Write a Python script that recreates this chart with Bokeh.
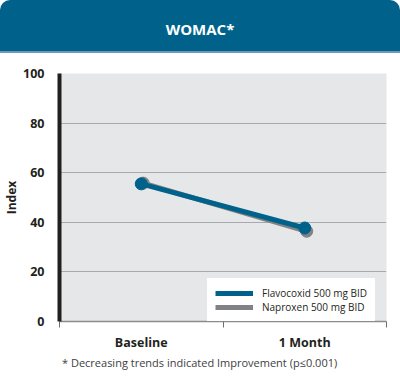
from bokeh.plotting import figure
from bokeh.models import (Div, FixedTicker, Legend, LegendItem, Range1d, ColumnDataSource)
from bokeh.layouts import column
from bokeh.transform import dodge
from bokeh.embed import file_html
from bokeh.resources import INLINE

title_text = "WOMAC*"
categories = ["Baseline", "1 Month"]
flavocoxid = [55.5, 37.7]
naproxen = [55.8, 36.4]
series_names = ["Flavocoxid 500 mg BID", "Naproxen 500 mg BID"]
y_ticks = [0, 20, 40, 60, 80, 100]
footnote = "* Decreasing trends indicated Improvement (p\u22640.001)"

BLUE = "#00628b"
GREY = "#808285"
TXT = "#231f20"
FONT = "Open Sans"

xpos = [i + 0.5 for i in range(len(categories))]
src = ColumnDataSource(dict(x=xpos, fl=flavocoxid, na=naproxen))

band = Div(text=title_text, width=400, height=53, margin=0,
           styles={"background-color": BLUE, "color": "white",
                   "font-family": FONT, "font-weight": "bold",
                   "font-size": "15px", "text-align": "center",
                   "line-height": "59px", "border-radius": "10px 10px 0 0",
                   "width": "400px", "height": "53px",
                   "border-bottom": "2px solid #6a9ab8", "box-sizing": "border-box"})

p = figure(width=400, height=300, output_backend="svg", toolbar_location=None,
           x_range=Range1d(0, len(categories)), y_range=Range1d(0, 100),
           min_border_left=0, min_border_right=14, min_border_top=20,
           min_border_bottom=32, background_fill_color="#e6e7e8",
           border_fill_color="white", outline_line_color=None)
p.margin = 0

# y axis
p.yaxis.ticker = FixedTicker(ticks=y_ticks)
p.yaxis.axis_line_color = TXT
p.yaxis.axis_line_width = 4
p.yaxis.major_tick_line_color = None
p.yaxis.minor_tick_line_color = None
p.yaxis.major_label_text_font = FONT
p.yaxis.major_label_text_font_style = "bold"
p.yaxis.major_label_text_font_size = "12.5px"
p.yaxis.major_label_text_color = TXT
p.yaxis.major_label_standoff = 9
p.yaxis.axis_label = "Index"
p.yaxis.axis_label_text_font = FONT
p.yaxis.axis_label_text_font_style = "bold"
p.yaxis.axis_label_text_font_size = "12px"
p.yaxis.axis_label_text_color = TXT
p.yaxis.axis_label_standoff = 0

# x axis
p.xaxis.ticker = FixedTicker(ticks=xpos, minor_ticks=list(range(len(categories) + 1)))
p.xaxis.major_label_overrides = {x: c for x, c in zip(xpos, categories)}
p.xaxis.major_tick_line_color = None
p.xaxis.minor_tick_line_color = "#6d6e71"
p.xaxis.minor_tick_out = 6
p.xaxis.minor_tick_in = 0
p.xaxis.axis_line_color = "#8a8c8e"
p.xaxis.axis_line_width = 1.5
p.xaxis.major_label_text_font = FONT
p.xaxis.major_label_text_font_style = "bold"
p.xaxis.major_label_text_font_size = "12.5px"
p.xaxis.major_label_text_color = TXT
p.xaxis.major_label_standoff = 6

p.xgrid.grid_line_color = None
p.ygrid.grid_line_color = "#a7a9ac"
p.ygrid.grid_line_width = 1

gx = dodge("x", 0.012, range=p.x_range)
ln = p.line(x=gx, y="na", source=src, line_color=GREY, line_width=5)
p.scatter(x=gx, y="na", source=src, size=12, fill_color=GREY, line_color=GREY)
lb = p.line(x="x", y="fl", source=src, line_color=BLUE, line_width=5)
p.scatter(x="x", y="fl", source=src, size=12, fill_color=BLUE, line_color=BLUE)

legend = Legend(items=[LegendItem(label=series_names[0], renderers=[lb]),
                       LegendItem(label=series_names[1], renderers=[ln])],
                location=(148, -1), margin=0, padding=7, spacing=0,
                glyph_width=38, glyph_height=14, label_height=14,
                label_standoff=9, label_text_font=FONT,
                label_text_font_size="10px", label_text_color=TXT,
                background_fill_color="white", background_fill_alpha=1,
                border_line_color="white", border_line_width=1)
p.add_layout(legend, "center")

foot = Div(text=footnote, width=400, height=28, margin=0,
           styles={"font-family": FONT, "font-size": "11px", "color": "#414042",
                   "line-height": "20px", "padding-left": "62px"})

layout = column(band, p, foot, spacing=0)
open("out.html", "w").write(file_html(layout, INLINE))
